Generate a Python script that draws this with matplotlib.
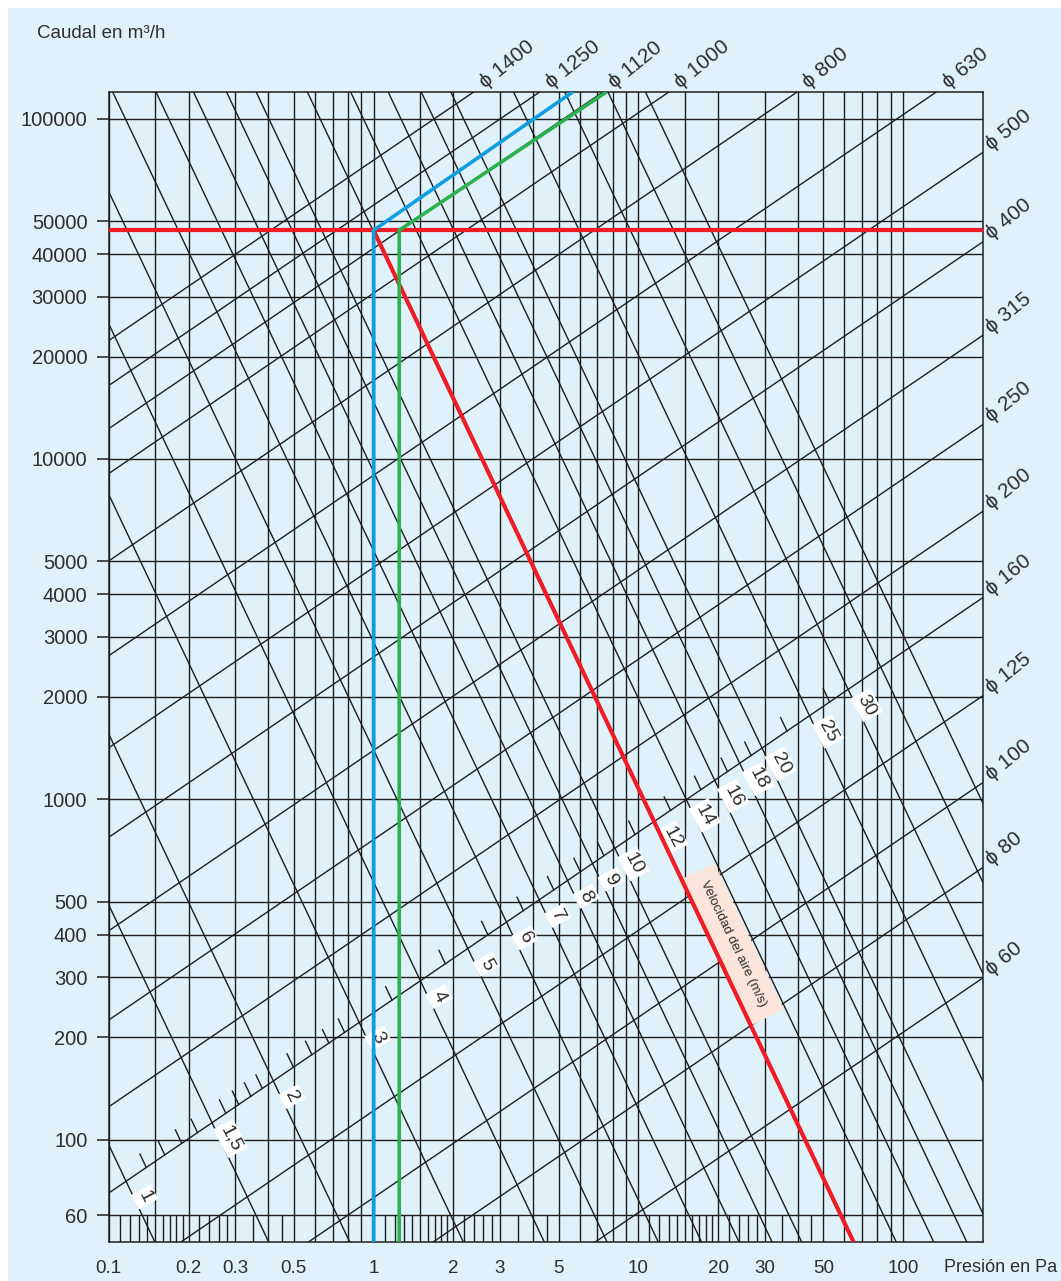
import numpy as np
import matplotlib.pyplot as plt
from matplotlib.patches import Rectangle
from matplotlib.ticker import NullLocator

plt.rcParams['font.family'] = ['Liberation Sans', 'DejaVu Sans']

BG = '#dff1fb'
INK = '#1e1e1e'
TXT = '#2e2e2e'

# axis ranges (Pa, m3/h)
x_range = [0.1, 200]
y_range = [50, 120000]

# grid lines
x_grid = [0.1, 0.15, 0.2, 0.3, 0.4, 0.5, 0.6, 0.7, 0.8, 0.9,
          1, 1.5, 2, 3, 4, 5, 6, 7, 8, 9,
          10, 15, 20, 30, 40, 50, 60, 70, 80, 90, 100]
x_fine = [0.11, 0.12, 0.13, 0.14, 0.16, 0.17, 0.18, 0.19, 0.22, 0.24, 0.26, 0.28, 0.35, 0.45,
          1.1, 1.2, 1.3, 1.4, 1.6, 1.7, 1.8, 1.9, 2.2, 2.4, 2.6, 2.8, 3.5, 4.5,
          11, 12, 13, 14, 16, 17, 18, 19, 22, 24, 26, 28, 35, 45]
y_grid = [60, 100, 200, 300, 400, 500, 1000, 2000, 3000, 4000, 5000,
          10000, 20000, 30000, 40000, 50000, 100000]

x_ticks = [0.1, 0.2, 0.3, 0.5, 1, 2, 3, 5, 10, 20, 30, 50, 100]
x_tick_labels = ['0.1', '0.2', '0.3', '0.5', '1', '2', '3', '5', '10', '20', '30', '50', '100']
y_ticks = y_grid
y_tick_labels = [str(v) for v in y_grid]

# duct diameter lines (mm): flow read at 1 Pa
diameters = [1400, 1250, 1120, 1000, 800, 630, 500, 400, 315, 250, 200, 160, 125, 100, 80, 60]
diam_q_at_1pa = [75500, 55700, 41600, 30700, 17000, 8950, 4800, 2620, 1392, 761,
                 423, 236, 121.5, 67.5, 38.0, 18.0]
diam_slope = 0.53

# air velocity lines (m/s): flow read at 1 Pa
velocities = [1, 1.5, 2, 3, 4, 5, 6, 7, 8, 9, 10, 12, 14, 16, 18, 20, 25, 30, 35, 40]
vel_labels = ['1', '1,5', '2', '3', '4', '5', '6', '7', '8', '9', '10', '12',
              '14', '16', '18', '20', '25', '30', '', '']
vel_q_at_1pa = [2.21, 11.2, 35.6, 180, 571, 1397, 2900, 5377, 9180, 14710, 22440, 46590,
                86380, 147500, 236400, 360500, 882200, 1830000, 3388000, 5789000]
vel_slope = -1.64
vel_minor = [1.1, 1.2, 1.3, 1.4, 1.6, 1.7, 1.8, 1.9, 2.2, 2.4, 2.6, 2.8, 3.5, 4.5,
             5.5, 6.5, 7.5, 8.5, 9.5, 11, 13, 15, 17, 19, 22.5, 27.5]
vel_scale = (2.21, 4.006)   # flow at 1 Pa = a * v**b

# worked example
red_h = ([0.1, 200], [47000, 47000])
red_v = ([1, 65], [47000, 50])
blue_path = ([1, 1, 5.67], [50, 47000, 120000])
green_path = ([1.25, 1.25, 7.6], [50, 47000, 120000])

W, H = 1061, 1281
fig = plt.figure(figsize=(W / 100, H / 100), dpi=100)
fig.patch.set_facecolor(BG)
fig.patches.append(Rectangle((0, 1 - 8 / H), 1, 8 / H, transform=fig.transFigure,
                             facecolor='white', edgecolor='none', zorder=0))
fig.patches.append(Rectangle((0, 0), 8 / W, 1, transform=fig.transFigure,
                             facecolor='white', edgecolor='none', zorder=0))

left, right, top, bottom = 108.8, 982.8, 91.7, 1242.0
ax = fig.add_axes([left / W, 1 - bottom / H, (right - left) / W, (bottom - top) / H])
ax.set_facecolor(BG)
ax.set_xscale('log')
ax.set_yscale('log')
ax.set_xlim(x_range)
ax.set_ylim(y_range)
for s in ax.spines.values():
    s.set_color(INK)
    s.set_linewidth(1.1)

ax.set_xticks(x_ticks, labels=x_tick_labels)
ax.set_yticks(y_ticks, labels=y_tick_labels)
ax.xaxis.set_minor_locator(NullLocator())
ax.yaxis.set_minor_locator(NullLocator())
ax.tick_params(axis='x', length=0, pad=13, labelsize=13.5, labelcolor=TXT)
ax.tick_params(axis='y', length=8.4, width=1.1, color=INK, pad=7, labelsize=14.5, labelcolor=TXT)

lw = 1.0
for x in x_grid:
    ax.axvline(x, color=INK, lw=lw, zorder=1)
for y in y_grid:
    ax.axhline(y, color=INK, lw=lw, zorder=1)
ax.vlines(x_fine, 50, 60, color=INK, lw=lw, zorder=1)

xs = np.array(x_range, dtype=float)
for d, q1 in zip(diameters, diam_q_at_1pa):
    ax.plot(xs, q1 * xs ** diam_slope, color=INK, lw=lw, zorder=2)
    q_right = q1 * x_range[1] ** diam_slope
    if q_right <= y_range[1]:
        pt, off = (x_range[1], q_right), (8, -1)
    else:
        pt, off = ((y_range[1] / q1) ** (1 / diam_slope), y_range[1]), (10, -0.5)
    ax.annotate('\u03d5 %d' % d, xy=pt, xytext=off, textcoords='offset points',
                rotation=39, rotation_mode='anchor', ha='left', va='bottom',
                fontsize=15, color=TXT, annotation_clip=False)

for v, q1 in zip(velocities, vel_q_at_1pa):
    ax.plot(xs, q1 * xs ** vel_slope, color=INK, lw=lw, zorder=2)


def crossing(qv, qd):
    L = (np.log10(qv) - np.log10(qd)) / (diam_slope - vel_slope)
    x = 10 ** L
    return x, qd * x ** diam_slope


# short ticks for intermediate velocities, sitting on the 160 mm line
q160 = diam_q_at_1pa[diameters.index(160)]
for v in vel_minor:
    qv = vel_scale[0] * v ** vel_scale[1]
    x0, y0 = crossing(qv, q160)
    d = 0.024
    x1 = x0 * 10 ** (-d)
    ax.plot([x0, x1], [y0, qv * x1 ** vel_slope], color=INK, lw=lw, zorder=2)

# velocity labels just below the 160 mm line
q_label = 205
for lab, q1 in zip(vel_labels, vel_q_at_1pa):
    if not lab:
        continue
    x0, y0 = crossing(q1, q_label)
    ax.annotate(lab, xy=(x0, y0), xytext=(8, 0), textcoords='offset points',
                rotation=-62, rotation_mode='anchor', ha='center', va='center',
                fontsize=14, color=TXT, zorder=4,
                bbox=dict(boxstyle='square,pad=0.14', fc='white', ec='none'))

ax.text(22.8, 375, 'Velocidad del aire (m/s)', rotation=-64.5, rotation_mode='anchor',
        ha='center', va='center', fontsize=9.5, color=TXT, zorder=4,
        bbox=dict(boxstyle='square,pad=0.9', fc='#fbe4d9', ec='none'))

ax.plot(*red_h, color='#ee1c25', lw=3.0, zorder=5, solid_capstyle='butt')
ax.plot(*red_v, color='#ee1c25', lw=3.0, zorder=5, solid_capstyle='butt')
ax.plot(*blue_path, color='#0f9ee0', lw=2.6, zorder=6, solid_capstyle='butt')
ax.plot(*green_path, color='#2bb24c', lw=2.6, zorder=6, solid_capstyle='butt')

fig.text(101 / W, 1 - 33 / H, 'Caudal en m\u00b3/h', ha='center', va='center',
         fontsize=13.5, color=TXT)
fig.text(1001 / W, 1 - 1268 / H, 'Presión en Pa', ha='center', va='center',
         fontsize=13, color=TXT)

fig.savefig('out.png', dpi=100, facecolor=fig.get_facecolor())
